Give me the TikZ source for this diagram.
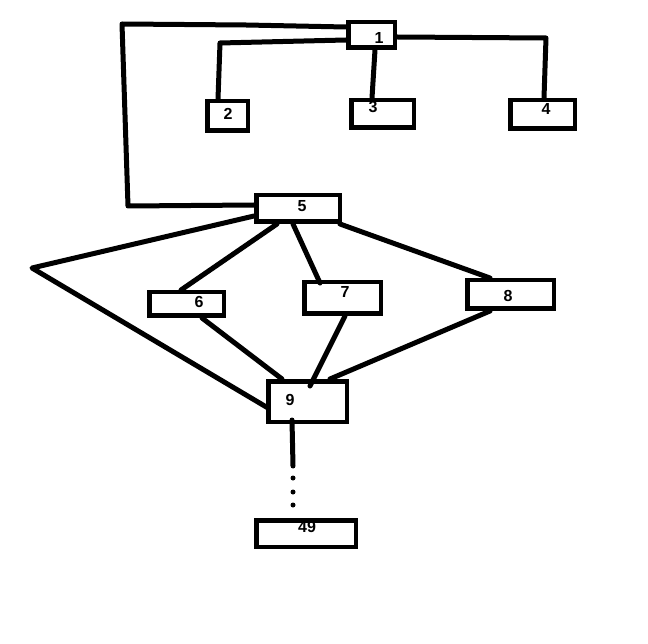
\documentclass[tikz,border=0pt]{standalone}
\usepackage{fontspec}
\setmainfont{Liberation Sans}
\begin{document}
\begin{tikzpicture}[x=1pt,y=-1pt,
  box/.style={draw=black,line width=4.5pt,rectangle,inner sep=0pt,fill=none},
  lbl/.style={inner sep=0pt,font=\fontsize{16}{16}\selectfont\bfseries},
  wire/.style={draw=black,line width=5pt,line cap=round,line join=round},
  dotn/.style={circle,fill=black,inner sep=0pt,minimum size=5pt}]
\useasboundingbox (0,0) rectangle (648,644);
\fill[white] (0,0) rectangle (648,644);
% boxes
\node[box,minimum width=46.5pt,minimum height=25.5pt] (b1) at (371.5,35) {};
\node[box,minimum width=40.5pt,minimum height=29.5pt] (b2) at (227.5,116) {};
\node[box,minimum width=62.5pt,minimum height=27.5pt] (b3) at (382.5,114) {};
\node[box,minimum width=64.5pt,minimum height=28.5pt] (b4) at (542.5,114.5) {};
\node[box,minimum width=83.5pt,minimum height=26.5pt] (b5) at (298,208.5) {};
\node[box,minimum width=74.5pt,minimum height=23.5pt] (b6) at (186.5,304) {};
\node[box,minimum width=76.5pt,minimum height=31.5pt] (b7) at (342.5,298) {};
\node[box,minimum width=86.5pt,minimum height=28.5pt] (b8) at (510.5,294.5) {};
\node[box,minimum width=78.5pt,minimum height=40.5pt] (b9) at (307.5,401.5) {};
\node[box,minimum width=99.5pt,minimum height=26.5pt] (b49) at (306,533.5) {};
% labels
\node[lbl] (t1) at (379,38) {1};
\node[lbl] (t2) at (228,114) {2};
\node[lbl] (t3) at (373,107) {3};
\node[lbl] (t4) at (546,109) {4};
\node[lbl] (t5) at (302,206) {5};
\node[lbl] (t6) at (199,302) {6};
\node[lbl] (t7) at (345,292) {7};
\node[lbl] (t8) at (508,296) {8};
\node[lbl] (t9) at (290,400) {9};
\node[lbl] (t49) at (307,527) {49};
% bend coordinates
\coordinate (c1a) at (246,25);
\coordinate (c1b) at (122,24);
\coordinate (c1c) at (128,206);
\coordinate (c2) at (220,43);
\coordinate (c4) at (546,38);
\coordinate (c5) at (32,268);
\coordinate (c9) at (293,466);
% connectors
\draw[wire] ([yshift=8pt]b1.west) -- (c1a) -- (c1b) -- (c1c) -- ([yshift=3.5pt]b5.west);
\draw[wire] ([yshift=-5pt]b1.west) -- (c2) -- ([xshift=-9.5pt]b2.north);
\draw[wire] ([xshift=3.5pt]b1.south) -- ([xshift=-10.5pt]b3.north);
\draw[wire] ([yshift=-2pt]b1.east) -- (c4) -- ([xshift=1.5pt]b4.north);
\draw[wire] ([yshift=-7.5pt]b5.west) -- (c5) -- ([xshift=2pt,yshift=-6.5pt]b9.west);
\draw[wire] ([xshift=-21pt]b5.south) -- ([xshift=-5.5pt]b6.north);
\draw[wire] ([xshift=-5pt]b5.south) -- ([xshift=-22.5pt,yshift=-3pt]b7.north);
\draw[wire] ([xshift=-2pt]b5.south east) -- ([xshift=-20.5pt]b8.north);
\draw[wire] ([xshift=15.5pt]b6.south) -- ([xshift=-25.5pt]b9.north);
\draw[wire] ([xshift=2.5pt]b7.south) -- ([xshift=2.5pt,yshift=-7pt]b9.north);
\draw[wire] ([xshift=-20.5pt]b8.south) -- ([xshift=22.5pt]b9.north);
\draw[wire] ([xshift=-15.5pt,yshift=4pt]b9.south) -- (c9);
\node[dotn] (d1) at (293,478) {};
\node[dotn] (d2) at (293,492) {};
\node[dotn] (d3) at (293,505) {};
\end{tikzpicture}
\end{document}
